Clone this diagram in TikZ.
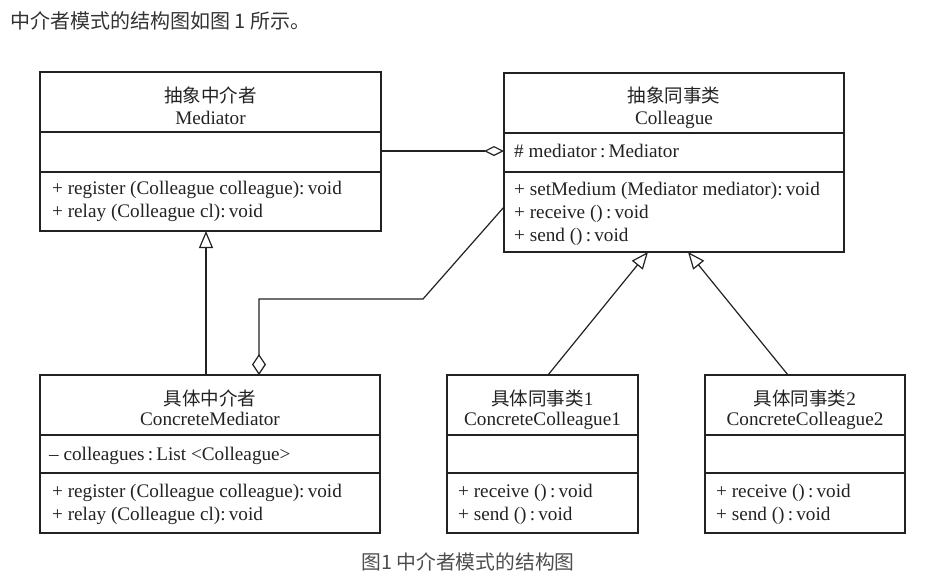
\documentclass[tikz,border=0pt]{standalone}
\usepackage{fontspec}
\setmainfont{Liberation Serif}
\newfontfamily\cjk{Noto Sans CJK SC}
\usetikzlibrary{arrows.meta}
\definecolor{ink}{HTML}{222222}
\definecolor{intxt}{HTML}{333333}
\definecolor{captxt}{HTML}{4d4d4d}
\begin{document}
\begin{tikzpicture}[x=1pt,y=-1pt,
  cls/.style={draw=ink,line width=1.2pt,inner sep=0pt,outer sep=0pt,fill=none},
  divl/.style={draw=ink,line width=1.2pt},
  ttl/.style={anchor=base,inner sep=0pt,text=ink,font=\fontsize{19.2}{21}\selectfont},
  mem/.style={anchor=base west,inner sep=0pt,text=ink,font=\fontsize{19.2}{21}\selectfont},
  zh/.style={font=\cjk\fontsize{18.5}{21}\selectfont},
  gen/.style={draw=ink,line width=1.2pt,-{Triangle[open,length=17pt,width=14pt]}},
  aggh/.style={draw=ink,line width=1.2pt,-{Diamond[open,length=20pt,width=10pt]}},
  aggv/.style={draw=ink,line width=1.2pt,-{Diamond[open,length=21pt,width=14pt]}}
]
\useasboundingbox (0,0) rectangle (930,576);

% intro and caption
\node[anchor=base west,inner sep=0pt,text=intxt,font=\cjk\fontsize{20}{22}\selectfont] (intro) at (10,28.5) {中介者模式的结构图如图 1 所示。};
\node[anchor=base,inner sep=0pt,text=captxt,font=\cjk\fontsize{19.8}{22}\selectfont] (caption) at (468,569) {图1 中介者模式的结构图};

% Mediator
\node[cls,minimum width=341pt,minimum height=159pt] (med) at (210.5,151.5) {};
\draw[divl] (med.west |- 0,132) -- (med.east |- 0,132);
\draw[divl] (med.west |- 0,172) -- (med.east |- 0,172);
\node[ttl,zh] (medzh) at (210.5,102.5) {抽象中介者};
\node[ttl] (meden) at (210.5,124) {Mediator};
\node[mem] (medm1) at (52,194) {+ register (Colleague colleague):\,void};
\node[mem] (medm2) at (52,217) {+ relay (Colleague cl):\,void};

% Colleague
\node[cls,minimum width=340pt,minimum height=179pt] (col) at (674,162.5) {};
\draw[divl] (col.west |- 0,133) -- (col.east |- 0,133);
\draw[divl] (col.west |- 0,172) -- (col.east |- 0,172);
\node[ttl,zh] (colzh) at (674,102.5) {抽象同事类};
\node[ttl] (colen) at (674,124) {Colleague};
\node[mem] (cola1) at (514,157) {\# mediator\,:\,Mediator};
\node[mem] (colm1) at (514,195) {+ setMedium (Mediator mediator):\,void};
\node[mem] (colm2) at (514,218) {+ receive ()\,:\,void};
\node[mem] (colm3) at (514,241) {+ send ()\,:\,void};

% ConcreteMediator
\node[cls,minimum width=340pt,minimum height=158pt] (cm) at (210,454) {};
\draw[divl] (cm.west |- 0,435) -- (cm.east |- 0,435);
\draw[divl] (cm.west |- 0,473) -- (cm.east |- 0,473);
\node[ttl,zh] (cmzh) at (210,405.5) {具体中介者};
\node[ttl] (cmen) at (210,425) {ConcreteMediator};
\node[mem] (cma1) at (49,460) {-- colleagues\,:\,List <Colleague>};
\node[mem] (cmm1) at (52,497) {+ register (Colleague colleague):\,void};
\node[mem] (cmm2) at (52,520) {+ relay (Colleague cl):\,void};

% ConcreteColleague1
\node[cls,minimum width=191pt,minimum height=158pt] (cc1) at (542.5,454) {};
\draw[divl] (cc1.west |- 0,435) -- (cc1.east |- 0,435);
\draw[divl] (cc1.west |- 0,473) -- (cc1.east |- 0,473);
\node[ttl] (cc1zh) at (542.5,405.5) {{\cjk\fontsize{18.5}{21}\selectfont 具体同事类}1};
\node[ttl] (cc1en) at (542.5,425) {ConcreteColleague1};
\node[mem] (cc1m1) at (458,497) {+ receive ()\,:\,void};
\node[mem] (cc1m2) at (458,520) {+ send ()\,:\,void};

% ConcreteColleague2
\node[cls,minimum width=200pt,minimum height=158pt] (cc2) at (805,454) {};
\draw[divl] (cc2.west |- 0,435) -- (cc2.east |- 0,435);
\draw[divl] (cc2.west |- 0,473) -- (cc2.east |- 0,473);
\node[ttl] (cc2zh) at (805,405.5) {{\cjk\fontsize{18.5}{21}\selectfont 具体同事类}2};
\node[ttl] (cc2en) at (805,425) {ConcreteColleague2};
\node[mem] (cc2m1) at (716,497) {+ receive ()\,:\,void};
\node[mem] (cc2m2) at (716,520) {+ send ()\,:\,void};

% connectors
\coordinate (bendA) at (423,299);
\coordinate (bendB) at (259,299);
\draw[aggh] (med.east |- 0,151) -- (col.west |- 0,151);
\draw[aggv] (col.west |- 0,207) -- (bendA) -- (bendB) -- (bendB |- cm.north);
\draw[gen] (206,0 |- cm.north) -- (206,0 |- med.south);
\draw[gen] (548,0 |- cc1.north) -- (648,0 |- col.south);
\draw[gen] (788,0 |- cc2.north) -- (688,0 |- col.south);
\end{tikzpicture}
\end{document}
